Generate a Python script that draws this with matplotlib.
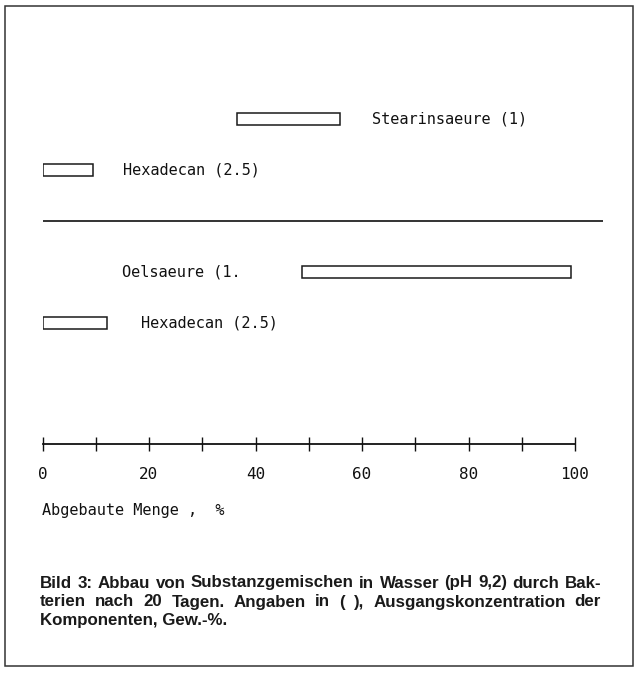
import matplotlib
matplotlib.use("Agg")
import matplotlib.pyplot as plt
from matplotlib.patches import Rectangle
from matplotlib.font_manager import FontProperties
from matplotlib.ticker import MultipleLocator

# ---------------- data ----------------
labels = ["Stearinsaeure (1)", "Hexadecan (2.5)", "Oelsaeure (1.", "Hexadecan (2.5)"]
starts = [36.5, 0.0, 48.8, 0.0]
ends = [55.8, 9.4, 99.2, 12.2]
xticks_major = [0, 20, 40, 60, 80, 100]
xlabel_text = "Abgebaute Menge ,  %"
caption_lines = [
    "Bild 3: Abbau von Substanzgemischen in Wasser (pH 9,2) durch Bak-",
    "terien nach 20 Tagen. Angaben in ( ), Ausgangskonzentration der",
    "Komponenten, Gew.-%.",
]

# ---------------- layout ----------------
W, H = 636, 677
rows = [0, 1, 3, 4]          # row slots (slot 2 holds the separator line)
sep_slot = 2
label_mode = ["after", "after", "left", "after"]
label_gap_px = [32, 30, 80, 34]
mono = "DejaVu Sans Mono"

fig = plt.figure(figsize=(W / 100, H / 100), dpi=100)
fig.patch.set_facecolor("white")

x0_px, x1_px = 42.5, 575.0
axis_y_px, top_y_px, row0_px, row_step = 444.0, 68.0, 119.0, 51.0
ax = fig.add_axes([x0_px / W, 1 - axis_y_px / H,
                   (x1_px - x0_px) / W, (axis_y_px - top_y_px) / H])
ax.set_xlim(0, 100)
ax.set_ylim((axis_y_px - row0_px) / row_step, (top_y_px - row0_px) / row_step)

bar_h = 12.5 / row_step
for i, (lab, s, e) in enumerate(zip(labels, starts, ends)):
    y = rows[i]
    ax.barh(y, e - s, left=s, height=bar_h, color="white",
            edgecolor="#1a1a1a", linewidth=1.1)
    if label_mode[i] == "after":
        ax.annotate(lab, xy=(e, y), xytext=(label_gap_px[i], 0),
                    textcoords="offset pixels", ha="left", va="center",
                    fontsize=11, family=mono, color="#111111")
    else:
        ax.annotate(lab, xy=(0, y), xytext=(label_gap_px[i], 0),
                    textcoords="offset pixels", ha="left", va="center",
                    fontsize=11, family=mono, color="#111111")

# separator line
ax.plot([0, 105.3], [sep_slot, sep_slot], color="#111111", lw=1.2,
        clip_on=False, solid_capstyle="butt")

# axis
for sp in ["left", "right", "top"]:
    ax.spines[sp].set_visible(False)
ax.spines["bottom"].set_linewidth(1.3)
ax.spines["bottom"].set_color("#111111")
ax.set_yticks([])
ax.set_xticks(xticks_major)
ax.xaxis.set_minor_locator(MultipleLocator(10))
ax.tick_params(axis="x", which="both", direction="inout", length=10,
               width=1.0, color="#111111", pad=11.5)
ax.tick_params(axis="x", which="major", labelsize=11.5, labelcolor="#111111")
for t in ax.get_xticklabels():
    t.set_family(mono)
ax.set_xlabel(xlabel_text, loc="left", fontsize=11, family=mono,
              color="#111111", labelpad=15)

# frame around figure
fig.add_artist(Rectangle((5 / W, 1 - 666 / H), (633 - 5) / W, (666 - 6) / H,
                         transform=fig.transFigure, fill=False,
                         edgecolor="#333333", linewidth=1.1))

# caption, justified
fig.canvas.draw()
renderer = fig.canvas.get_renderer()
cap_fp = FontProperties(family="Liberation Sans", weight="bold", size=10)


def text_w(s, fp):
    t = fig.text(0, 0, s, fontproperties=fp)
    w = t.get_window_extent(renderer).width
    t.remove()
    return w


cap_left, cap_right = 40.0, 601.0
w10 = text_w(caption_lines[0], cap_fp)
cap_fp.set_size(10 * (cap_right - cap_left) / w10 * 0.985)

cap_y_px = [583, 602, 620]
for li, line in enumerate(caption_lines):
    ypos = 1 - cap_y_px[li] / H
    if li < len(caption_lines) - 1:
        words = line.split(" ")
        ws = [text_w(wd, cap_fp) for wd in words]
        gap = (cap_right - cap_left - sum(ws)) / (len(words) - 1)
        x = cap_left
        for wd, wdt in zip(words, ws):
            fig.text(x / W, ypos, wd, fontproperties=cap_fp, va="center",
                     ha="left", color="#1a1a1a")
            x += wdt + gap
    else:
        fig.text(cap_left / W, ypos, line, fontproperties=cap_fp, va="center",
                 ha="left", color="#1a1a1a")

fig.savefig("out.png", dpi=100, facecolor="white")
